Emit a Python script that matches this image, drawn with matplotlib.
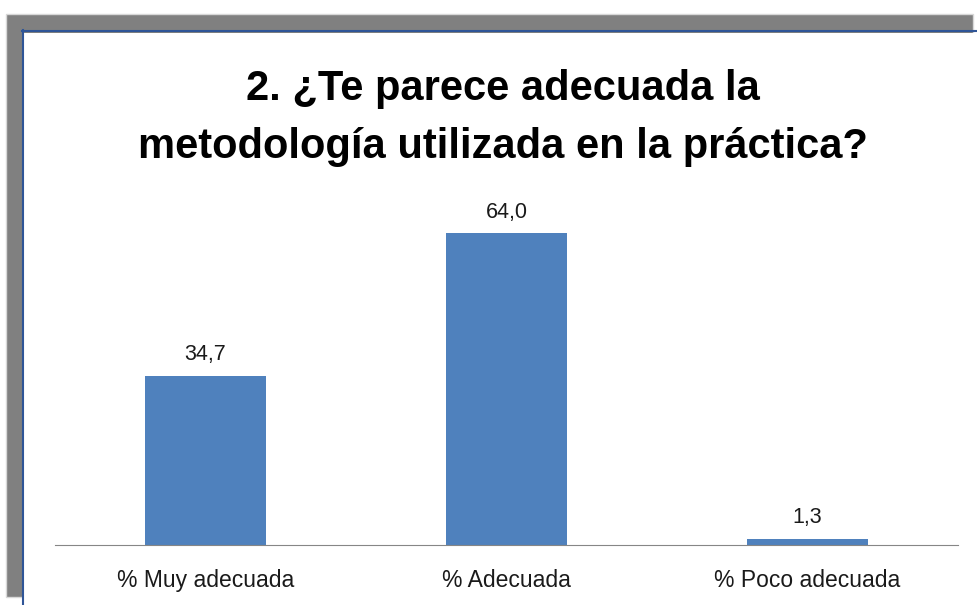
import matplotlib.pyplot as plt
from matplotlib.patches import Rectangle
from matplotlib.lines import Line2D

categories = ['% Muy adecuada', '% Adecuada', '% Poco adecuada']
values = [34.7, 64.0, 1.3]
value_labels = ['34,7', '64,0', '1,3']
title = '2. ¿Te parece adecuada la\nmetodología utilizada en la práctica?'

W, H = 977, 605
fig = plt.figure(figsize=(W / 100, H / 100), dpi=100)

def fx(px):
    return px / W

def fy(py):
    return 1 - py / H

# window frame (gray band, blue edge, white inner area)
fig.patches.append(Rectangle((fx(6), fy(597)), fx(967), 583 / H, transform=fig.transFigure,
                             facecolor='#808080', edgecolor='#d8d8d8', lw=1, zorder=0))
fig.patches.append(Rectangle((fx(24), 0), fx(977 - 24), fy(33), transform=fig.transFigure,
                             facecolor='white', edgecolor='none', zorder=1))
fig.lines.append(Line2D([fx(22.5), fx(22.5)], [0, fy(30)], transform=fig.transFigure,
                        color='#2f5597', lw=1.5, zorder=2))
fig.lines.append(Line2D([fx(22), 1], [fy(30.5), fy(30.5)], transform=fig.transFigure,
                        color='#2f5597', lw=1.5, zorder=2))

ax = fig.add_axes([fx(55), fy(545), fx(958 - 55), (545 - 204) / H])
ax.set_zorder(3)
ax.patch.set_alpha(0)
x = range(len(categories))
ax.bar(x, values, width=0.4, color='#4f81bd')
for i, (v, lab) in enumerate(zip(values, value_labels)):
    ax.text(i, v + 2.2, lab, ha='center', va='bottom', fontsize=15.5,
            family='Liberation Sans', color='#1a1a1a')
ax.set_xlim(-0.5, 2.5)
ax.set_ylim(0, 70)
ax.set_xticks(list(x))
ax.set_xticklabels(categories, fontsize=16.5, family='Liberation Sans', color='#1a1a1a')
ax.tick_params(axis='x', length=0, pad=17)
ax.set_yticks([])
for s in ['top', 'right', 'left']:
    ax.spines[s].set_visible(False)
ax.spines['bottom'].set_color('#868686')

fig.text(fx(503), fy(118), title, ha='center', va='center', fontsize=30,
         fontweight='bold', family='Liberation Sans', linespacing=1.6, zorder=4)

fig.savefig('out.png', dpi=100)
